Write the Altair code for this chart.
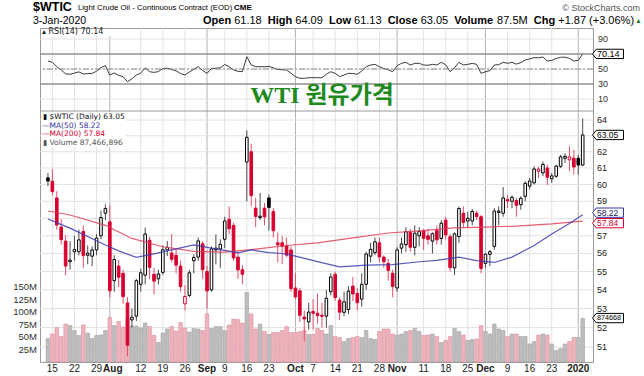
import altair as alt
import pandas as pd
import numpy as np

# ------------------------------------------------------------------ data
holidays = ["2019-09-02", "2019-11-28", "2019-12-25", "2020-01-01"]
dates = [d.strftime("%Y-%m-%d") for d in pd.bdate_range("2019-07-12", "2020-01-03")
         if d.strftime("%Y-%m-%d") not in holidays]

prev_close_before_first = 60.20

opens = [60.40, 60.20, 59.20, 57.50, 56.70, 55.55, 56.10, 56.10, 57.25, 55.90,
         55.85, 56.20, 57.00, 58.30, 57.80, 54.50, 55.30, 54.90, 53.30, 52.40,
         52.60, 54.30, 54.80, 56.75, 54.85, 54.60, 54.95, 56.20, 56.03, 55.90,
         55.30, 53.25, 53.70, 55.60, 55.80, 56.55, 55.00, 54.00, 56.20, 56.25,
         56.80, 57.95, 57.60, 55.80, 55.10, 61.37, 62.00, 58.60, 58.05, 58.60,
         59.20, 58.40, 56.60, 56.60, 56.45, 56.20, 54.10, 53.95, 52.55, 52.30,
         52.85, 52.75, 52.65, 52.60, 53.90, 54.85, 53.45, 52.80, 52.95, 54.20,
         53.80, 53.50, 54.30, 55.85, 56.05, 56.60, 55.80, 55.45, 54.90, 54.10,
         56.30, 56.50, 57.20, 56.35, 57.00, 57.30, 57.00, 56.70, 57.30, 56.85,
         57.90, 56.95, 55.20, 56.95, 58.30, 57.85, 57.85, 58.30, 58.10, 55.45,
         55.95, 56.40, 58.35, 58.30, 59.10, 59.00, 59.05, 58.80, 59.30, 59.90,
         60.10, 60.80, 60.70, 61.00, 60.35, 60.50, 61.10, 61.60, 61.50, 61.60,
         61.60, 61.18]
highs = [60.69, 60.94, 59.60, 57.95, 57.05, 56.70, 57.00, 57.35, 57.60, 56.45,
         56.40, 57.10, 58.45, 58.82, 58.76, 55.90, 55.65, 55.10, 53.60, 53.00,
         54.60, 55.15, 57.47, 56.95, 55.20, 55.10, 56.45, 56.70, 57.10, 56.25,
         55.60, 54.25, 55.10, 55.95, 56.90, 56.70, 55.30, 56.40, 57.07, 56.80,
         58.10, 58.70, 57.75, 56.10, 55.35, 63.34, 62.50, 59.20, 59.50, 58.90,
         59.40, 58.60, 57.20, 57.00, 56.90, 56.40, 54.90, 54.10, 52.90, 53.30,
         53.50, 53.80, 53.30, 54.00, 54.90, 55.00, 53.60, 53.90, 54.20, 54.70,
         54.10, 54.90, 56.10, 56.60, 56.90, 56.90, 55.90, 55.70, 55.10, 56.35,
         56.90, 57.50, 57.40, 57.60, 57.50, 57.40, 57.40, 57.20, 57.60, 57.90,
         58.10, 57.10, 57.20, 58.70, 58.70, 58.40, 58.55, 58.45, 58.20, 56.00,
         56.20, 58.60, 58.70, 59.85, 59.40, 59.35, 59.20, 59.30, 60.20, 60.40,
         61.10, 61.10, 61.40, 61.20, 60.70, 61.20, 61.80, 61.90, 62.34, 62.10,
         61.80, 64.09]
lows = [59.90, 59.35, 57.35, 56.50, 54.80, 55.10, 55.60, 55.90, 55.20, 55.40,
        55.30, 55.90, 56.80, 57.90, 53.59, 53.90, 54.15, 53.25, 50.52, 52.00,
        52.35, 53.90, 54.30, 54.60, 53.75, 54.30, 54.80, 55.85, 55.50, 54.90,
        53.90, 52.90, 53.60, 54.90, 55.60, 54.60, 53.00, 53.90, 55.40, 55.20,
        56.30, 57.10, 55.60, 54.60, 54.30, 59.00, 58.70, 57.50, 57.90, 57.60,
        57.30, 56.90, 55.50, 55.40, 55.80, 53.90, 53.50, 52.30, 51.30, 51.90,
        51.90, 52.20, 52.00, 52.00, 53.70, 53.40, 52.40, 52.60, 52.70, 53.40,
        52.90, 53.10, 54.00, 55.50, 55.90, 55.50, 55.20, 54.50, 53.60, 53.90,
        56.00, 56.10, 56.10, 55.90, 56.40, 56.20, 56.50, 56.00, 56.50, 56.50,
        56.80, 55.00, 54.80, 56.60, 57.50, 57.50, 57.60, 57.90, 54.90, 55.20,
        55.30, 56.20, 57.60, 58.10, 58.60, 58.60, 58.10, 58.50, 59.00, 59.70,
        60.00, 60.40, 60.50, 59.97, 60.10, 60.40, 61.00, 61.30, 60.80, 60.60,
        60.60, 61.13]
closes = [60.21, 59.58, 57.62, 56.78, 55.30, 55.63, 56.22, 56.77, 55.88, 56.02,
          56.20, 56.87, 58.05, 58.58, 53.95, 55.66, 54.69, 53.63, 51.09, 52.54,
          54.50, 54.93, 57.10, 55.23, 54.47, 54.87, 56.21, 56.34, 55.68, 55.35,
          54.17, 53.64, 54.93, 55.78, 56.71, 55.10, 53.94, 56.26, 56.30, 56.52,
          57.85, 57.40, 55.75, 55.09, 54.85, 62.90, 59.34, 58.11, 58.13, 58.09,
          58.64, 57.29, 56.49, 56.41, 55.91, 54.07, 53.62, 52.64, 52.45, 52.81,
          52.75, 52.63, 52.59, 53.55, 54.70, 53.59, 52.81, 53.36, 53.93, 53.78,
          53.31, 54.30, 55.97, 56.23, 56.66, 55.81, 55.54, 55.06, 54.18, 56.20,
          56.54, 57.23, 56.35, 57.15, 57.24, 56.86, 56.80, 57.12, 56.77, 57.72,
          57.05, 55.21, 57.11, 58.58, 57.77, 58.01, 58.41, 58.11, 55.17, 55.96,
          56.10, 58.43, 58.43, 59.20, 59.02, 59.24, 58.76, 59.18, 60.07, 60.21,
          60.94, 60.93, 61.22, 60.44, 60.52, 61.11, 61.68, 61.72, 61.68, 61.06,
          61.18, 63.05]
volumes_m = [47, 56, 69, 51, 76, 73, 63, 53, 74, 58,
             47, 53, 54, 63, 89, 73, 81, 70, 86, 72,
             72, 68, 78, 71, 53, 39, 58, 66, 71, 62,
             79, 68, 60, 67, 66, 63, 96, 67, 71, 71,
             63, 74, 86, 85, 78, 139, 96, 66, 76, 61,
             55, 59, 59, 63, 71, 59, 59, 61, 63, 55,
             55, 67, 63, 56, 73, 51, 49, 41, 47, 49,
             51, 49, 63, 47, 45, 61, 66, 66, 56, 54,
             56, 61, 63, 67, 61, 53, 54, 56, 51, 39,
             43, 51, 67, 61, 54, 43, 45, 46, 73, 61,
             56, 76, 66, 63, 51, 56, 56, 51, 51, 36,
             41, 54, 56, 54, 36, 23, 27, 36, 41, 49,
             49, 87.466896]
rsi14 = [60.7, 58.9, 53.1, 48.7, 43.5, 43.0, 44.5, 46.2, 43.3, 43.8,
         44.2, 47.0, 52.0, 54.4, 42.0, 44.8, 41.5, 39.8, 33.1, 37.0,
         42.0, 44.5, 51.6, 46.4, 45.5, 46.5, 50.7, 51.0, 49.3, 47.5,
         44.0, 42.0, 46.0, 49.5, 53.1, 48.0, 44.2, 50.7, 51.0, 51.6,
         56.0, 53.1, 48.7, 47.0, 46.4, 66.4, 55.3, 53.1, 53.1, 53.0,
         53.5, 51.6, 49.3, 49.0, 48.7, 44.2, 39.8, 37.6, 37.6, 38.4,
         38.4, 38.4, 38.4, 42.9, 46.4, 44.2, 39.8, 42.0, 44.2, 44.0,
         43.0, 47.3, 53.0, 55.3, 56.2, 53.1, 50.7, 49.0, 46.4, 54.4,
         57.6, 58.9, 55.3, 57.5, 57.6, 55.3, 55.0, 56.2, 55.3, 58.9,
         55.5, 46.4, 51.6, 58.9, 55.3, 56.2, 57.5, 56.2, 44.2, 46.4,
         47.8, 55.3, 55.8, 58.9, 57.6, 58.9, 56.5, 58.5, 62.0, 63.5,
         65.1, 65.1, 66.0, 60.7, 61.5, 64.0, 65.6, 65.8, 64.2, 60.7,
         61.5, 70.14]
ma50_idx = [0, 5, 13, 16, 20, 24, 28, 33, 37, 40, 43, 46, 50, 53, 56, 61, 66,
            72, 78, 84, 88, 93, 97, 101, 105, 110, 114, 118, 121]
ma50_val = [57.97, 57.44, 56.48, 56.15, 55.78, 55.98, 56.20, 56.48, 56.30, 56.18,
            56.04, 56.20, 56.05, 56.00, 55.85, 55.55, 55.26, 55.35, 55.38, 55.54,
            55.62, 55.80, 55.60, 55.50, 55.80, 56.45, 57.10, 57.70, 58.22]
ma200_idx = [0, 5, 13, 19, 26, 33, 40, 47, 54, 61, 69, 77, 84, 92, 99, 106, 114, 121]
ma200_val = [58.43, 58.20, 57.60, 56.85, 56.38, 56.12, 56.08, 56.25, 56.45, 56.60,
             56.88, 57.16, 57.28, 57.45, 57.50, 57.56, 57.68, 57.84]

tick_idx = [1, 6, 11, 14, 21, 26, 31, 36, 40, 45, 50, 56, 60, 65, 70, 75, 79,
            85, 90, 95, 99, 104, 109, 114, 120]
tick_labels = ["15", "22", "29", "Aug", "12", "19", "26", "Sep", "9", "16", "23",
               "Oct", "7", "14", "21", "28", "Nov", "11", "18", "25", "Dec", "9",
               "16", "23", "2020"]
month_idx = [14, 36, 56, 79, 99, 120]
price_ticks = [51, 52, 53, 54, 55, 56, 57, 58, 59, 60, 61, 62, 63, 64]
vol_ticks = [25, 50, 75, 100, 125, 150]
rsi_ticks = [10, 30, 50, 70, 90]

# ------------------------------------------------------------------ layout
PADL, PADT, PADR, PADB = 40, 28, 51, 14
W, H = 644 - PADL - PADR, 376 - PADT - PADB
RED = "#D8002F"
BLACK = "#000000"
BLUE = "#3535A8"
FONT = "Liberation Sans"
LFONT = "DejaVu Sans"
P_TOP, P_BOT = 120 - PADT, 347 - PADT          # pixel rows of 64 and 51
PX_PER_LN = (P_BOT - P_TOP) / np.log(64 / 51)
V_PX_PER_M = 75 / 150.0

n = len(closes)
df = pd.DataFrame({"i": list(range(n)), "date": dates[:n], "open": opens, "high": highs,
                   "low": lows, "close": closes, "vol": volumes_m})
prev = np.array([prev_close_before_first] + closes[:-1])
up = np.array(closes) >= prev
hollow = np.array(closes) > np.array(opens)
df["ccol"] = np.where(up, BLACK, RED)
df["wcol"] = np.where(up, "#4a4a4a", "#E2506C")
df["bfill"] = np.where(hollow, "#FFFFFF", df["ccol"])
df["lo"] = np.minimum(df["open"], df["close"])
df["hi"] = np.maximum(df["open"], df["close"])
df["vfill"] = np.where(up, "#BDBDBD", "#EEB3BC")
df["vstroke"] = np.where(up, "#A2A2A2", "#DC8E9C")

df_rsi = pd.DataFrame({"i": list(range(n)), "rsi": rsi14})
df_ma50 = pd.DataFrame({"i": ma50_idx, "v": ma50_val})
df_ma200 = pd.DataFrame({"i": ma200_idx, "v": ma200_val})
df_xt = pd.DataFrame({"i": tick_idx, "lab": tick_labels})
df_xt["month"] = df_xt["i"].isin(month_idx)
df_xt["gcol"] = np.where(df_xt["month"], "#b3b3b3", "#e2e2e2")
gap_prev = df_xt["i"].diff().fillna(99)
df_xt["nudge"] = df_xt["month"] & (gap_prev <= 3)

XS = alt.Scale(domain=[-0.667, 122.2], nice=False, zero=False)
RS = alt.Scale(domain=[0, 100], range=[78.5, 3.5], nice=False, zero=False)
PS = alt.Scale(type="log", domain=[51, 64], range=[P_BOT, P_TOP], nice=False, zero=False)
VS = alt.Scale(domain=[0, 150], range=[H, H - 75], nice=False)
X = alt.X("i:Q", scale=XS, axis=None)


def yR(f):
    return alt.Y(f, scale=RS, axis=None)


def yP(f):
    return alt.Y(f, scale=PS, axis=None)


def yV(f):
    return alt.Y(f, scale=VS, axis=None)


def txt(s, ax, ay, size=10, weight="normal", color="#000", align="left", font=FONT):
    return alt.Chart(pd.DataFrame({"t": [s]})).mark_text(
        align=align, baseline="middle", fontSize=size, fontWeight=weight, color=color, font=font
    ).encode(x=alt.value(ax - PADL), y=alt.value(ay - PADT), text="t:N")


def price_px(p):
    return P_TOP + PX_PER_LN * np.log(64 / p)


TAG = "M -1 0 L -0.76 -0.3 L 1 -0.3 L 1 0.3 L -0.76 0.3 Z"

# ------------------------------------------------------------------ guides (grid + tick labels)
xgrid = alt.Chart(df_xt).mark_rule(strokeWidth=1).encode(x=X, color=alt.Color("gcol:N", scale=None))
xlab_day = alt.Chart(df_xt[~df_xt["month"]]).mark_text(
    baseline="top", fontSize=10, font=FONT, color="#222").encode(x=X, y=alt.value(H + 2), text="lab:N")
xlab_mon = alt.Chart(df_xt[df_xt["month"] & ~df_xt["nudge"]]).mark_text(
    baseline="top", fontSize=10, font=FONT, fontWeight="bold", color="#222").encode(x=X, y=alt.value(H + 2), text="lab:N")
xlab_mon2 = alt.Chart(df_xt[df_xt["nudge"]]).mark_text(
    baseline="top", fontSize=10, font=FONT, fontWeight="bold", color="#222", dx=3).encode(x=X, y=alt.value(H + 2), text="lab:N")

tag_prices = [closes[-1], ma50_val[-1], ma200_val[-1]]
df_pt = pd.DataFrame({"v": price_ticks})
df_pt["show"] = [min(abs(t - p) for p in tag_prices) > 0.5 for t in price_ticks]
pgrid = alt.Chart(df_pt).mark_rule(color="#e2e2e2", strokeWidth=1).encode(y=yP("v:Q"))
plab = alt.Chart(df_pt[df_pt["show"]]).mark_text(align="left", baseline="middle", fontSize=9, font=FONT, color="#222").encode(
    x=alt.value(W + 4), y=yP("v:Q"), text=alt.Text("v:Q", format="d"))
price_guides = alt.layer(pgrid, plab)

df_rt = pd.DataFrame({"v": rsi_ticks})
df_rt["show"] = [abs(t - rsi14[-1]) > 4 for t in rsi_ticks]
rgrid = alt.Chart(df_rt).mark_rule(color="#e2e2e2", strokeWidth=1).encode(y=yR("v:Q"))
rlab = alt.Chart(df_rt[df_rt["show"]]).mark_text(align="left", baseline="middle", fontSize=9, font=FONT, color="#333").encode(
    x=alt.value(W + 5), y=yR("v:Q"), text=alt.Text("v:Q", format="d"))
rsi_guides = alt.layer(rgrid, rlab)

df_vt = pd.DataFrame({"v": vol_ticks, "lab": ["%dM" % v for v in vol_ticks]})
vlab = alt.Chart(df_vt).mark_text(align="right", baseline="middle", fontSize=9.5, font=FONT, color="#333").encode(
    x=alt.value(-3), y=yV("v:Q"), text="lab:N")

# ------------------------------------------------------------------ volume
vol_last = df.iloc[[-1]].copy()
vol_last["lab"] = str(int(round(volumes_m[-1] * 1e6)))[:6]
# the volume tag is centred between the two neighbouring price labels so it clears both
vt_px = H - volumes_m[-1] * V_PX_PER_M
above = max(price_px(p) for p in price_ticks if price_px(p) < vt_px)
below = min(price_px(p) for p in price_ticks if price_px(p) > vt_px)
vt_off = (above + below) / 2.0 - vt_px
vol_bars = alt.Chart(df).mark_bar(size=3.6, strokeWidth=0.6).encode(
    x=X, y=yV("vol:Q"),
    fill=alt.Fill("vfill:N", scale=None), stroke=alt.Stroke("vstroke:N", scale=None))
vol_tag = alt.Chart(vol_last).mark_point(
    shape=TAG, filled=True, fill="white", stroke="#000", strokeWidth=1, size=31 * 31, opacity=1,
    yOffset=vt_off).encode(x=alt.value(608 - PADL), y=yV("vol:Q"))
vol_tag_t = alt.Chart(vol_last).mark_text(align="left", baseline="middle", fontSize=7.2, font=FONT, color="#000",
                                          yOffset=vt_off).encode(
    x=alt.value(597 - PADL), y=yV("vol:Q"), text="lab:N")
vol_layer = alt.layer(vlab, vol_bars, vol_tag, vol_tag_t)

# ------------------------------------------------------------------ RSI
rsi_line = alt.Chart(df_rsi).mark_line(color="#3a3a3a", strokeWidth=1).encode(x=X, y=yR("rsi:Q"))
rsi_solid = alt.Chart(pd.DataFrame({"lvl": [30, 70]})).mark_rule(color="#6b6b6b", strokeWidth=1.2).encode(y=yR("lvl:Q"))
rsi_mid = alt.Chart(pd.DataFrame({"lvl": [50]})).mark_rule(color="#8a8a8a", strokeWidth=1, strokeDash=[6, 2, 2, 2]).encode(y=yR("lvl:Q"))
sep = alt.Chart(pd.DataFrame({"lvl": [-6]})).mark_rule(color="#9a9a9a", strokeWidth=1).encode(y=yR("lvl:Q"))
rsi_last = df_rsi.iloc[[-1]].copy()
rsi_last["lab"] = ["%.2f" % rsi14[-1]]
rsi_tag = alt.Chart(rsi_last).mark_point(
    shape=TAG, filled=True, fill="white", stroke="#000", strokeWidth=1, size=31 * 31, opacity=1).encode(
    x=alt.value(608 - PADL), y=yR("rsi:Q"))
rsi_tag_t = alt.Chart(rsi_last).mark_text(align="left", baseline="middle", fontSize=9, font=FONT, color="#000").encode(
    x=alt.value(597 - PADL), y=yR("rsi:Q"), text="lab:N")
rsi_layer = alt.layer(rsi_line, rsi_solid, rsi_mid, sep, rsi_tag, rsi_tag_t)

# ------------------------------------------------------------------ price
wicks = alt.Chart(df).mark_rule(strokeWidth=1).encode(
    x=X, y=yP("low:Q"), y2="high:Q", color=alt.Color("wcol:N", scale=None))
bodies = alt.Chart(df).mark_bar(size=2.6, strokeWidth=1).encode(
    x=X, y=yP("lo:Q"), y2="hi:Q",
    fill=alt.Fill("bfill:N", scale=None), stroke=alt.Stroke("ccol:N", scale=None))
ma200 = alt.Chart(df_ma200).mark_line(color="#E0405A", strokeWidth=1.2, opacity=0.85).encode(x=X, y=yP("v:Q"))
ma50 = alt.Chart(df_ma50).mark_line(color="#3b3bb0", strokeWidth=1.2, opacity=0.85).encode(x=X, y=yP("v:Q"))

# value tags: the two moving-average tags are pushed apart so their texts do not collide
a, b = ma50_val[-1], ma200_val[-1]
gap_px = PX_PER_LN * np.log(a / b)
need = 10.5
push = max(0.0, (need - gap_px) / 2.0) / PX_PER_LN
tags = pd.DataFrame({"v": [b * np.exp(-push), a * np.exp(push), closes[-1]],
                     "lab": ["%.2f" % b, "%.2f" % a, "%.2f" % closes[-1]],
                     "c": [RED, BLUE, BLACK], "tc": [RED, "#222266", BLACK], "o": [0, 1, 2]})
tag_box = alt.Chart(tags).mark_point(
    shape=TAG, filled=True, fill="white", strokeWidth=1, size=31 * 31, opacity=1).encode(
    x=alt.value(608 - PADL), y=yP("v:Q"), stroke=alt.Stroke("c:N", scale=None), order="o:Q")
tag_txt = alt.Chart(tags).mark_text(align="left", baseline="middle", fontSize=8.5, font=FONT).encode(
    x=alt.value(597 - PADL), y=yP("v:Q"), text="lab:N", color=alt.Color("tc:N", scale=None))
price_layer = alt.layer(wicks, bodies, ma200, ma50, tag_box, tag_txt)

# ------------------------------------------------------------------ header / legends
AR = {"0": 556, "1": 556, "2": 556, "3": 556, "4": 556, "5": 556, "6": 556, "7": 556, "8": 556,
      "9": 556, ".": 278, " ": 278, "+": 584, "-": 333, "(": 333, ")": 333, "%": 889, "M": 833}
AB = {"O": 778, "p": 611, "e": 556, "n": 611, "H": 722, "i": 278, "g": 611, "h": 611, "L": 611,
      "o": 611, "w": 778, "C": 722, "l": 278, "s": 556, "V": 667, "u": 611, "m": 889}


def tw(s, size, bold):
    tab = AB if bold else AR
    return sum(tab.get(c, 556) for c in s) * size / 1000.0


chg = closes[-1] - closes[-2]
pairs = [("Open", "%.2f" % opens[-1]), ("High", "%.2f" % highs[-1]), ("Low", "%.2f" % lows[-1]),
         ("Close", "%.2f" % closes[-1]), ("Volume", "%.1fM" % volumes_m[-1]),
         ("Chg", "%+.2f (%+.2f%%)" % (chg, chg / closes[-2] * 100))]
HS = 11
sp = 278 * HS / 1000.0
hx = 203.0
line2 = []
for lab, val in pairs:
    line2.append(txt(lab, hx, 20.5, size=HS, weight="bold"))
    hx += tw(lab, HS, True) + sp
    line2.append(txt(val, hx, 20.5, size=HS))
    hx += tw(val, HS, False) + 2 * sp

legend_bg = alt.Chart(pd.DataFrame({"a": [0]})).mark_rect(color="white").encode(
    x=alt.value(41 - PADL), x2=alt.value(126 - PADL), y=alt.value(112 - PADT), y2=alt.value(147 - PADT))
rsi_bg = alt.Chart(pd.DataFrame({"a": [0]})).mark_rect(color="white").encode(
    x=alt.value(41 - PADL), x2=alt.value(116 - PADL), y=alt.value(29 - PADT), y2=alt.value(36 - PADT))

vol_str = "{:,}".format(int(round(volumes_m[-1] * 1e6)))
LS = 7.5
texts = [
    txt("$WTIC", 33, 7, size=12.5, weight="bold"),
    txt("Light Crude Oil - Continuous Contract (EOD)", 78, 8, size=7.8),
    txt("CME", 234, 8, size=8, weight="bold"),
    txt("© StockCharts.com", 640, 8, size=9, color="#555", align="right"),
    txt("3-Jan-2020", 33, 21, size=10.5),
    txt("▲", 642, 20.5, size=7, color="#2d7d2d", align="right"),
    txt("▴ RSI(14) %.2f" % rsi14[-1], 42, 32, size=8, font=LFONT, color="#222"),
    txt("WTI 원유가격", 322, 96, size=24, weight="bold", color="#1E8A1E",
        font="Liberation Serif, Noto Sans CJK KR", align="center"),
    txt("▮ $WTIC (Daily) %.2f" % closes[-1], 43, 117, size=LS, font=LFONT, color="#111"),
    txt("—MA(50) %.2f" % ma50_val[-1], 42, 125.5, size=LS, font=LFONT, color=BLUE),
    txt("—MA(200) %.2f" % ma200_val[-1], 42, 134, size=LS, font=LFONT, color=RED),
    txt("▮ Volume %s" % vol_str, 43, 142.5, size=LS, font=LFONT, color="#555"),
] + line2

chart = alt.layer(
    xgrid, xlab_day, xlab_mon, xlab_mon2, rsi_guides, price_guides, vol_layer, rsi_layer, price_layer,
    legend_bg, rsi_bg, *texts
).resolve_scale(y="independent").properties(
    width=W, height=H, padding={"left": PADL, "top": PADT, "right": PADR, "bottom": PADB},
    autosize=alt.AutoSizeParams(type="none"), background="white"
).configure_view(stroke="#9a9a9a", strokeWidth=1)

chart.save("out.html", embed_options={"renderer": "svg", "actions": False})
